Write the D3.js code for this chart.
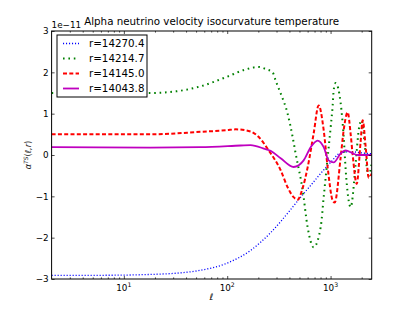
<!DOCTYPE html>
<html>
<head>
<meta charset="utf-8">
<script src="https://cdn.jsdelivr.net/npm/d3@7"></script>
<style>
  body { margin: 0; background: #fff; }
  text { font-family: "DejaVu Sans", sans-serif; }
</style>
</head>
<body>
<div id="chart"></div>
<script>
// values, in units of 1e-11
const blueL = [2, 6, 18, 32, 55, 99, 168, 263, 411, 514, 640, 800, 1000, 1250, 1560, 2000, 2500];
const blueV = [-2.91, -2.91, -2.89, -2.86, -2.79, -2.62, -2.31, -1.88, -1.32, -1.02, -0.74, -0.45, -0.18, 0.05, 0.08, 0.05, 0.03];

const greenL = [2, 18, 32, 55, 99, 151, 202, 235, 275, 294, 329, 384, 430, 459, 537, 600, 686, 802, 858, 937, 1002, 1048, 1072, 1121, 1253, 1339, 1401, 1565, 1750, 1871, 2000, 2130, 2240, 2338, 2500];
const greenV = [1.5, 1.5, 1.54, 1.66, 1.89, 2.07, 2.13, 2.08, 2.0, 1.8, 1.49, 1.0, 0.43, 0.04, -0.85, -1.75, -2.23, -1.75, -1.02, -0.06, 0.67, 1.2, 1.57, 1.74, 1.25, 0.44, -0.37, -1.26, -0.2, 0.6, 0.84, 0.3, -0.3, -0.5, -0.2];

const redL = [2, 18, 55, 99, 121, 168, 201, 252, 329, 384, 439, 480, 537, 600, 686, 767, 858, 937, 1048, 1096, 1253, 1339, 1464, 1565, 1637, 1790, 1950, 2045, 2186, 2338, 2500];
const redV = [0.5, 0.5, 0.56, 0.6, 0.62, 0.57, 0.44, 0.11, -0.37, -0.78, -1.02, -1.08, -0.8, -0.3, 0.52, 1.2, 0.6, -0.3, -1.1, -1.15, -0.05, 0.6, 1.03, 0.5, 0.0, -0.7, 0.3, 0.84, 0.2, -0.55, -0.45];

const magL = [2, 18, 55, 135, 168, 235, 263, 329, 439, 549, 642, 750, 858, 958, 1072, 1253, 1401, 1637, 1829, 2500];
const magV = [0.19, 0.18, 0.19, 0.23, 0.24, 0.14, 0.1, -0.08, -0.29, -0.13, 0.19, 0.35, 0.19, -0.13, -0.18, 0.04, 0.11, 0.04, 0.0, 0.0];

const labels = ["r=14270.4", "r=14214.7", "r=14145.0", "r=14043.8"];
const yTicks = [-3, -2, -1, 0, 1, 2, 3];
const xMajor = [10, 100, 1000];
const xMinor = [3, 4, 5, 6, 7, 8, 9, 20, 30, 40, 50, 60, 70, 80, 90, 200, 300, 400, 500, 600, 700, 800, 900, 2000];

const W = 413, H = 310;
const margin = { top: 31, right: 41.3, bottom: 31, left: 51.6 };
const width = W - margin.left - margin.right;
const height = H - margin.top - margin.bottom;

const svg = d3.select("#chart").append("svg")
    .attr("width", W)
    .attr("height", H)
    .style("background", "#fff");

const x = d3.scaleLog().domain([2, 2500]).range([0, width]);
const y = d3.scaleLinear().domain([-3, 3]).range([height, 0]);

const g = svg.append("g")
    .attr("transform", "translate(" + margin.left + "," + margin.top + ")");

svg.append("defs").append("clipPath").attr("id", "clip")
    .append("rect").attr("width", width).attr("height", height);

const series = [
    { L: blueL, V: blueV, color: "#0000ff", w: 1.3, dash: "1.1,1.9" },
    { L: greenL, V: greenV, color: "#008000", w: 2, dash: "1.6,3.8" },
    { L: redL, V: redV, color: "#ff0000", w: 2, dash: "4,2.3" },
    { L: magL, V: magV, color: "#bf00bf", w: 1.8, dash: null }
];

const line = d3.line()
    .x(d => x(d[0]))
    .y(d => y(d[1]))
    .curve(d3.curveMonotoneX);

const plot = g.append("g").attr("clip-path", "url(#clip)");
series.forEach(s => {
    plot.append("path")
        .datum(s.L.map((l, i) => [l, s.V[i]]))
        .attr("d", line)
        .attr("fill", "none")
        .attr("stroke", s.color)
        .attr("stroke-width", s.w)
        .attr("stroke-dasharray", s.dash);
});

// frame
g.append("rect")
    .attr("x", 0).attr("y", 0)
    .attr("width", width).attr("height", height)
    .attr("fill", "none")
    .attr("stroke", "#000")
    .attr("stroke-width", 1);

// y axes, ticks pointing in
const yl = g.append("g")
    .call(d3.axisLeft(y).tickValues(yTicks).tickSize(-3).tickPadding(3)
        .tickFormat(d => d < 0 ? "\u2212" + Math.abs(d) : d));
g.append("g").attr("transform", "translate(" + width + ",0)")
    .call(d3.axisRight(y).tickValues(yTicks).tickSize(-3).tickFormat(""));

// x axes
g.append("g").attr("transform", "translate(0," + height + ")")
    .call(d3.axisBottom(x).tickValues(xMajor).tickSize(-3).tickFormat(""));
g.append("g").attr("transform", "translate(0," + height + ")")
    .call(d3.axisBottom(x).tickValues(xMinor).tickSize(-1.6).tickFormat(""));
g.append("g")
    .call(d3.axisTop(x).tickValues(xMajor).tickSize(-3).tickFormat(""));
g.append("g")
    .call(d3.axisTop(x).tickValues(xMinor).tickSize(-1.6).tickFormat(""));

g.selectAll(".domain").remove();
g.selectAll(".tick line").attr("stroke", "#000").attr("stroke-width", 0.7);
yl.selectAll("text").attr("font-size", 8.8).attr("fill", "#000")
    .attr("font-family", "DejaVu Sans");

// x tick labels as 10 with superscript exponent
xMajor.forEach(v => {
    const t = g.append("text")
        .attr("x", x(v))
        .attr("y", height + 12)
        .attr("text-anchor", "middle")
        .attr("font-size", 8.8);
    t.append("tspan").text("10");
    t.append("tspan").attr("dy", -4).attr("font-size", 6.2).text(Math.round(Math.log10(v)));
});

// offset text
g.append("text")
    .attr("x", 0).attr("y", -3)
    .attr("font-size", 8.8)
    .text("1e\u221211");

// title
svg.append("text")
    .attr("x", margin.left + width / 2)
    .attr("y", 25)
    .attr("text-anchor", "middle")
    .attr("font-size", 10.3)
    .text("Alpha neutrino velocity isocurvature temperature");

// axis labels
svg.append("text")
    .attr("x", margin.left + width / 2)
    .attr("y", 300)
    .attr("text-anchor", "middle")
    .attr("font-size", 9)
    .attr("font-style", "italic")
    .text("\u2113");

const ylab = svg.append("text")
    .attr("transform", "translate(31," + (margin.top + height / 2) + ") rotate(-90)")
    .attr("text-anchor", "middle")
    .attr("font-size", 8.2)
    .attr("fill", "#222");
ylab.append("tspan").attr("font-style", "italic").text("\u03b1");
ylab.append("tspan").attr("dy", -3.5).attr("font-size", 5.8).attr("font-style", "italic").text("TS");
ylab.append("tspan").attr("dy", 3.5).text("(");
ylab.append("tspan").attr("font-style", "italic").text("\u2113,r");
ylab.append("tspan").text(")");

// legend
const leg = svg.append("g").attr("transform", "translate(57,35)");
leg.append("rect")
    .attr("width", 90).attr("height", 62)
    .attr("fill", "#fff").attr("stroke", "#000").attr("stroke-width", 1);
series.forEach((s, i) => {
    const yy = 8.5 + i * 15;
    leg.append("line")
        .attr("x1", 6).attr("x2", 22)
        .attr("y1", yy).attr("y2", yy)
        .attr("stroke", s.color)
        .attr("stroke-width", s.w)
        .attr("stroke-dasharray", s.dash);
    leg.append("text")
        .attr("x", 32).attr("y", yy + 3.8)
        .attr("font-size", 10.3)
        .text(labels[i]);
});
</script>
</body>
</html>
